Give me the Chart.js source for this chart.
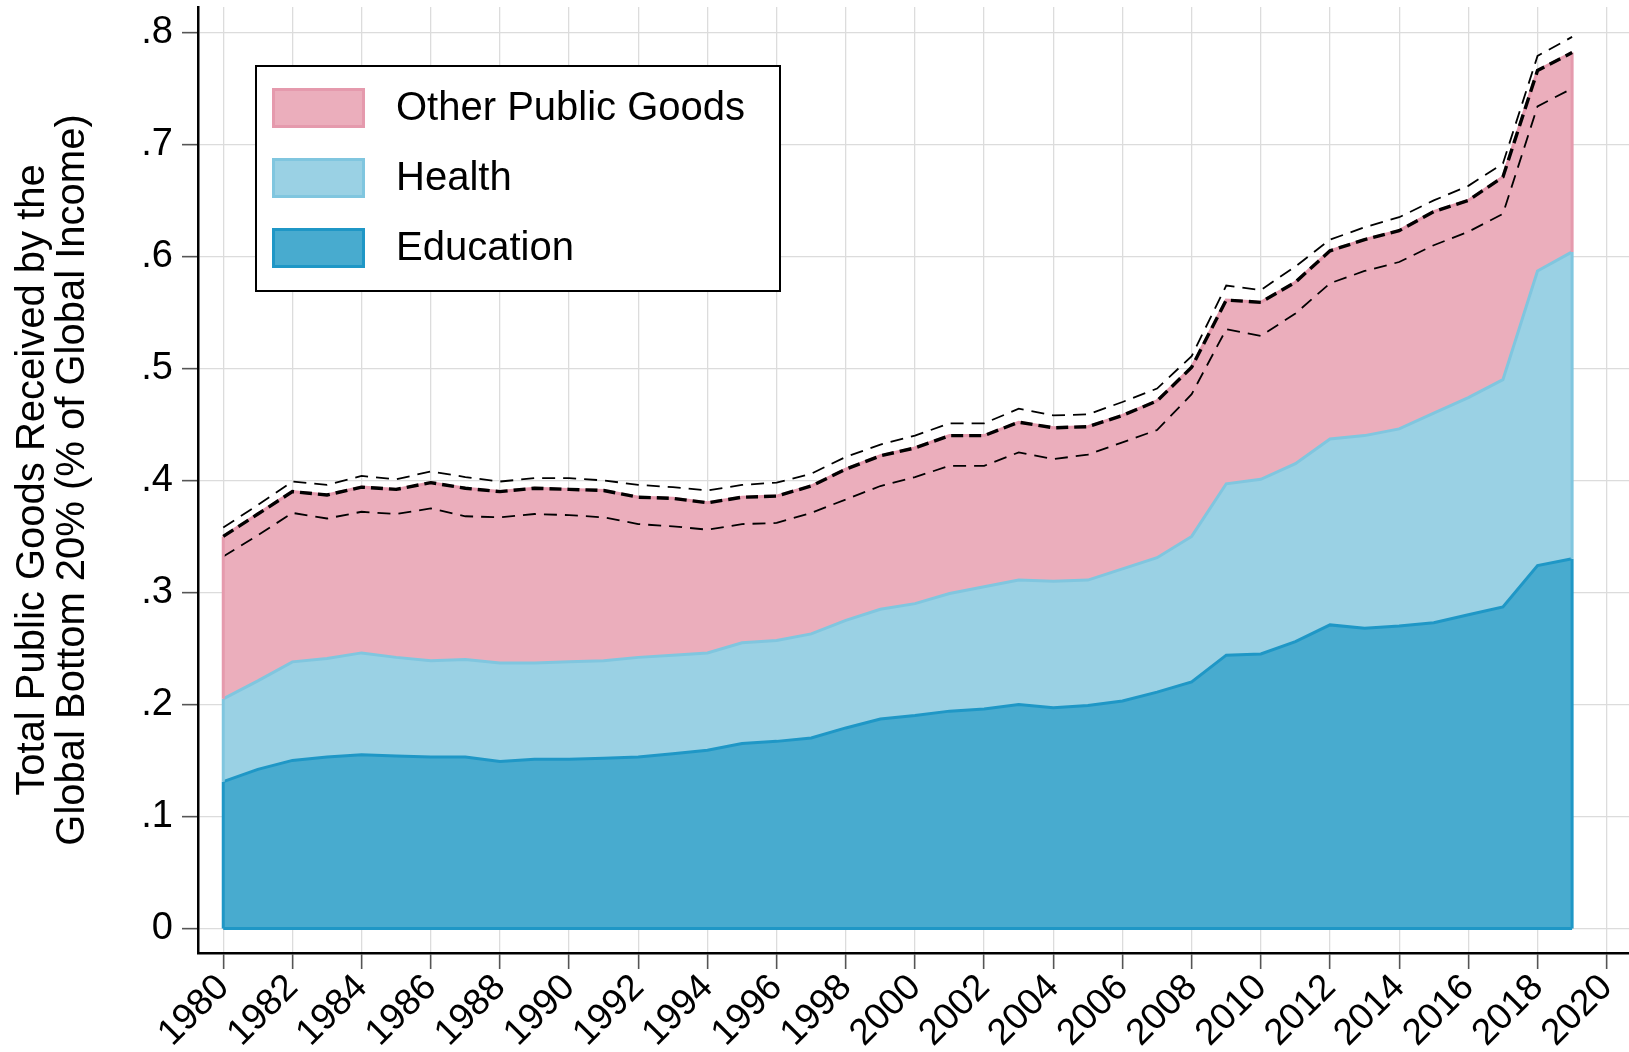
<!DOCTYPE html>
<html lang="en">
<head>
<meta charset="utf-8">
<title>Public Goods Received by the Global Bottom 20%</title>
<script src="https://cdn.jsdelivr.net/npm/chart.js@4.4.1/dist/chart.umd.min.js"></script>
<style>
    html, body { margin: 0; padding: 0; background: #fff; }
    #wrap { width: 1629px; height: 1052px; }
</style>
</head>
<body>
<div id="wrap"><canvas id="bienesPublicosChart" width="1629" height="1052"></canvas></div>
<script>
// Datos (% del ingreso global)
const years = [1980, 1981, 1982, 1983, 1984, 1985, 1986, 1987, 1988, 1989,
               1990, 1991, 1992, 1993, 1994, 1995, 1996, 1997, 1998, 1999,
               2000, 2001, 2002, 2003, 2004, 2005, 2006, 2007, 2008, 2009,
               2010, 2011, 2012, 2013, 2014, 2015, 2016, 2017, 2018, 2019];

const education = [0.131, 0.142, 0.150, 0.153, 0.155, 0.154, 0.153, 0.153, 0.149, 0.151,
                   0.151, 0.152, 0.153, 0.156, 0.159, 0.165, 0.167, 0.170, 0.179, 0.187,
                   0.190, 0.194, 0.196, 0.200, 0.197, 0.199, 0.203, 0.211, 0.220, 0.244,
                   0.245, 0.256, 0.271, 0.268, 0.270, 0.273, 0.280, 0.287, 0.324, 0.330];

const health = [0.074, 0.079, 0.088, 0.088, 0.091, 0.088, 0.086, 0.087, 0.088, 0.086,
                0.087, 0.087, 0.089, 0.088, 0.087, 0.090, 0.090, 0.093, 0.096, 0.098,
                0.100, 0.105, 0.109, 0.111, 0.113, 0.112, 0.118, 0.120, 0.130, 0.153,
                0.156, 0.159, 0.166, 0.172, 0.176, 0.187, 0.194, 0.203, 0.263, 0.274];

const otherGoods = [0.145, 0.149, 0.152, 0.146, 0.148, 0.150, 0.159, 0.153, 0.153, 0.156,
                    0.154, 0.152, 0.143, 0.140, 0.134, 0.130, 0.129, 0.132, 0.135, 0.137,
                    0.139, 0.141, 0.135, 0.141, 0.137, 0.137, 0.137, 0.140, 0.151, 0.164,
                    0.158, 0.162, 0.168, 0.175, 0.177, 0.180, 0.176, 0.181, 0.179, 0.178];

// Lineas punteadas (cotas del total)
const upperBound = [0.358, 0.378, 0.399, 0.396, 0.404, 0.401, 0.408, 0.403, 0.399, 0.402,
                    0.402, 0.400, 0.396, 0.394, 0.391, 0.396, 0.398, 0.406, 0.421, 0.432,
                    0.440, 0.451, 0.451, 0.464, 0.458, 0.459, 0.470, 0.482, 0.511, 0.574,
                    0.570, 0.591, 0.615, 0.626, 0.635, 0.650, 0.663, 0.683, 0.779, 0.796];

const lowerBound = [0.332, 0.351, 0.371, 0.366, 0.372, 0.370, 0.375, 0.368, 0.367, 0.370,
                    0.369, 0.367, 0.361, 0.359, 0.356, 0.361, 0.362, 0.371, 0.383, 0.395,
                    0.403, 0.413, 0.413, 0.425, 0.419, 0.423, 0.434, 0.445, 0.477, 0.535,
                    0.529, 0.549, 0.576, 0.587, 0.595, 0.610, 0.622, 0.638, 0.734, 0.750];

const xTickYears = [1980, 1982, 1984, 1986, 1988, 1990, 1992, 1994, 1996, 1998, 2000,
                    2002, 2004, 2006, 2008, 2010, 2012, 2014, 2016, 2018, 2020];
const yTickValues = [0, 0.1, 0.2, 0.3, 0.4, 0.5, 0.6, 0.7, 0.8];
const yTickLabels = ['0', '.1', '.2', '.3', '.4', '.5', '.6', '.7', '.8'];

const FONT = "'Liberation Sans', Arial, Helvetica, sans-serif";

function toPoints(values) {
    return years.map(function (yr, i) { return { x: yr, y: values[i] }; });
}

// Bordes laterales de las areas, base y linea del total
const areaEdgesPlugin = {
    id: 'areaEdges',
    afterDatasetsDraw: function (chart) {
        const ctx = chart.ctx;
        const y0 = chart.scales.y.getPixelForValue(0);
        ctx.save();
        ctx.lineWidth = 3;
        for (let i = 0; i < 3; i++) {
            const pts = chart.getDatasetMeta(i).data;
            const below = i > 0 ? chart.getDatasetMeta(i - 1).data : null;
            const last = pts.length - 1;
            ctx.strokeStyle = chart.data.datasets[i].borderColor;
            ctx.beginPath();
            ctx.moveTo(pts[0].x, pts[0].y);
            ctx.lineTo(pts[0].x, below ? below[0].y : y0);
            ctx.moveTo(pts[last].x, pts[last].y);
            ctx.lineTo(pts[last].x, below ? below[last].y : y0);
            if (!below) {
                ctx.moveTo(pts[0].x, y0);
                ctx.lineTo(pts[last].x, y0);
            }
            ctx.stroke();
        }
        // total (tope de "Other Public Goods") en negro discontinuo grueso
        const top = chart.getDatasetMeta(2).data;
        ctx.strokeStyle = '#000';
        ctx.lineWidth = 3.4;
        ctx.setLineDash([12, 6]);
        ctx.beginPath();
        top.forEach(function (p, k) {
            if (k === 0) ctx.moveTo(p.x, p.y); else ctx.lineTo(p.x, p.y);
        });
        ctx.stroke();
        ctx.restore();
    }
};

// Leyenda dentro del area del grafico
const boxLegendPlugin = {
    id: 'boxLegend',
    afterDraw: function (chart) {
        const ctx = chart.ctx;
        const area = chart.chartArea;
        const left = area.left + 58, top = area.top + 59;
        const w = 524, h = 225;
        ctx.save();
        ctx.fillStyle = '#fff';
        ctx.fillRect(left, top, w, h);
        ctx.strokeStyle = '#000';
        ctx.lineWidth = 2;
        ctx.strokeRect(left, top, w, h);
        const order = [2, 1, 0];
        order.forEach(function (idx, row) {
            const ds = chart.data.datasets[idx];
            const cy = top + 42 + row * 70;
            ctx.fillStyle = ds.backgroundColor;
            ctx.fillRect(left + 16, cy - 20, 93, 40);
            ctx.strokeStyle = ds.borderColor;
            ctx.lineWidth = 3;
            ctx.strokeRect(left + 17.5, cy - 18.5, 90, 37);
            ctx.fillStyle = '#000';
            ctx.font = '40px ' + FONT;
            ctx.textAlign = 'left';
            ctx.textBaseline = 'middle';
            ctx.fillText(ds.label, left + 140, cy + 1);
        });
        ctx.restore();
    }
};

document.addEventListener('DOMContentLoaded', function () {
    const ctx = document.getElementById('bienesPublicosChart').getContext('2d');

    const gridOpts = {
        color: '#dcdcdc',
        lineWidth: 1.3,
        tickLength: 16,
        tickColor: '#555',
        tickWidth: 1.6
    };

    window.bienesPublicosChart = new Chart(ctx, {
        type: 'line',
        data: {
            datasets: [{
                label: 'Education',
                data: toPoints(education),
                backgroundColor: '#48abcf',
                borderColor: '#1f97c6',
                borderWidth: 3,
                fill: 'origin',
                stack: 'areas'
            }, {
                label: 'Health',
                data: toPoints(health),
                backgroundColor: '#9ad1e4',
                borderColor: '#80c6df',
                borderWidth: 3,
                fill: '-1',
                stack: 'areas'
            }, {
                label: 'Other Public Goods',
                data: toPoints(otherGoods),
                backgroundColor: '#ebaebc',
                borderColor: '#e59aad',
                borderWidth: 3,
                fill: '-1',
                stack: 'areas'
            }, {
                label: 'Upper',
                data: toPoints(upperBound),
                borderColor: '#000',
                borderWidth: 1.8,
                borderDash: [13, 8],
                fill: false,
                stack: 'upper',
                order: -1
            }, {
                label: 'Lower',
                data: toPoints(lowerBound),
                borderColor: '#000',
                borderWidth: 1.8,
                borderDash: [13, 8],
                fill: false,
                stack: 'lower',
                order: -1
            }]
        },
        options: {
            responsive: false,
            animation: false,
            devicePixelRatio: 1,
            layout: { padding: { top: 7, left: 0, right: 0, bottom: 0 } },
            elements: { point: { radius: 0 }, line: { tension: 0 } },
            plugins: {
                legend: { display: false },
                tooltip: { enabled: false }
            },
            scales: {
                x: {
                    type: 'linear',
                    min: 1979.27,
                    max: 2020.645,
                    afterBuildTicks: function (scale) {
                        scale.ticks = xTickYears.map(function (v) { return { value: v }; });
                    },
                    afterFit: function (scale) {
                        scale.height = 99;
                        scale.paddingLeft = 0;
                        scale.paddingRight = 0;
                    },
                    ticks: {
                        autoSkip: false,
                        minRotation: 45,
                        maxRotation: 45,
                        padding: -3,
                        color: '#000',
                        font: { family: FONT, size: 37 },
                        callback: function (v) { return String(v); }
                    },
                    grid: gridOpts,
                    border: { color: '#000', width: 2.5 }
                },
                y: {
                    stacked: true,
                    min: -0.02196,
                    max: 0.8227,
                    afterBuildTicks: function (scale) {
                        scale.ticks = yTickValues.map(function (v) { return { value: v }; });
                    },
                    afterFit: function (scale) {
                        scale.width = 198;
                        scale.paddingTop = 0;
                        scale.paddingBottom = 0;
                    },
                    ticks: {
                        padding: 9,
                        color: '#000',
                        font: { family: FONT, size: 38 },
                        callback: function (v, i) { return yTickLabels[i]; }
                    },
                    grid: gridOpts,
                    border: { color: '#000', width: 2.5 },
                    title: {
                        display: true,
                        text: ['Total Public Goods Received by the', 'Global Bottom 20% (% of Global Income)'],
                        color: '#000',
                        font: { family: FONT, size: 40, lineHeight: 1.0 },
                        padding: { top: 13, bottom: 0 }
                    }
                }
            }
        },
        plugins: [areaEdgesPlugin, boxLegendPlugin]
    });
});
</script>
</body>
</html>
